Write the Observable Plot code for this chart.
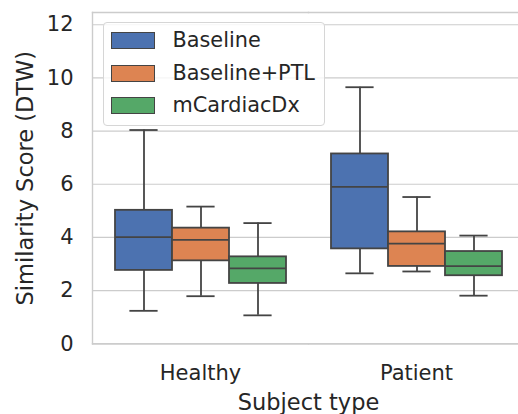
<!DOCTYPE html>
<html><head><meta charset="utf-8">
<script src="https://cdn.jsdelivr.net/npm/d3@7"></script>
<script src="https://cdn.jsdelivr.net/npm/@observablehq/plot@0.6"></script>
<style>
html,body{margin:0;padding:0;background:#fff;overflow:hidden;}
#wrap{position:relative;width:518px;height:414px;overflow:hidden;font-family:"DejaVu Sans";color:#262626;}
#legend{position:absolute;left:102.5px;top:22px;width:222px;height:104px;border:1px solid #d6d6d6;border-radius:4px;background:rgba(255,255,255,0.8);box-sizing:border-box;}
.item{position:absolute;left:7px;height:17px;}
.sw{position:absolute;left:0;top:0;width:44px;height:17px;box-sizing:border-box;border:1.7px solid #444;}
.lab{position:absolute;left:62px;top:-4px;font-size:20.8px;line-height:24px;white-space:nowrap;}
</style></head><body><div id="wrap"></div>
<script>
const subjects = ["Healthy", "Patient"];
const models = ["Baseline", "Baseline+PTL", "mCardiacDx"];
const colors = ["#4c72b0", "#dd8452", "#55a868"];
// per subject, per model
const whiskerLow  = [[1.24, 1.79, 1.07], [2.65, 2.72, 1.81]];
const q1          = [[2.76, 3.12, 2.27], [3.57, 2.91, 2.56]];
const median      = [[4.01, 3.91, 2.84], [5.90, 3.77, 2.92]];
const q3          = [[5.02, 4.35, 3.27], [7.14, 4.21, 3.47]];
const whiskerHigh = [[8.04, 5.16, 4.54], [9.65, 5.52, 4.07]];
const yTicks = [0, 2, 4, 6, 8, 10, 12];

const rows = [];
subjects.forEach((s, i) => models.forEach((m, j) => rows.push({
  subject: s, model: m, low: whiskerLow[i][j], q1: q1[i][j], med: median[i][j], q3: q3[i][j], high: whiskerHigh[i][j]
})));

const lc = "#444444", lw = 1.8, gc = "#cccccc";
const common = {fx: "subject", x: "model"};

const chart = Plot.plot({
  width: 518, height: 414,
  marginLeft: 91, marginRight: -6, marginTop: 12, marginBottom: 70.7,
  style: {fontFamily: "DejaVu Sans", fontSize: "21px", color: "#262626", background: "transparent"},
  fx: {domain: subjects, padding: 0, label: null},
  x: {domain: models, paddingInner: 0, paddingOuter: 0.375, axis: null},
  y: {domain: [0, 12.46], label: null, axis: null},
  color: {domain: models, range: colors},
  marks: [
    Plot.gridY(yTicks, {stroke: gc, strokeOpacity: 1, strokeWidth: 1.2}),
    Plot.frame({anchor: "top", stroke: gc, strokeOpacity: 1, strokeWidth: 1.4}),
    Plot.frame({anchor: "bottom", stroke: gc, strokeOpacity: 1, strokeWidth: 1.4}),
    Plot.frame({anchor: "left", facetAnchor: "left", stroke: gc, strokeOpacity: 1, strokeWidth: 1.4}),
    Plot.ruleX(rows, {...common, y1: "low", y2: "q1", stroke: lc, strokeWidth: lw}),
    Plot.ruleX(rows, {...common, y1: "q3", y2: "high", stroke: lc, strokeWidth: lw}),
    Plot.tickY(rows, {...common, y: "low", stroke: lc, strokeWidth: lw, insetLeft: 14.4, insetRight: 14.4}),
    Plot.tickY(rows, {...common, y: "high", stroke: lc, strokeWidth: lw, insetLeft: 14.4, insetRight: 14.4}),
    Plot.barY(rows, {...common, y1: "q1", y2: "q3", fill: "model", stroke: lc, strokeWidth: lw}),
    Plot.tickY(rows, {...common, y: "med", stroke: lc, strokeWidth: lw}),
    Plot.axisY(yTicks, {tickSize: 0, tickPadding: 19, label: null, fill: "#262626", fontSize: 21}),
    Plot.axisY({ticks: [], tickSize: 0, label: "Similarity Score (DTW)", labelArrow: "none", labelAnchor: "center", labelOffset: 75, fontSize: 22.5, fill: "#262626"}),
    Plot.axisFx({anchor: "bottom", tickSize: 0, tickPadding: 21, label: null, fontSize: 21, fill: "#262626"}),
    Plot.axisFx({anchor: "bottom", ticks: [], tickSize: 0, label: "Subject type", labelArrow: "none", labelAnchor: "center", labelOffset: 66, fontSize: 22.5, fill: "#262626", facetAnchor: null})
  ]
});
const wrap = document.getElementById("wrap");
wrap.appendChild(chart);

const legend = document.createElement("div");
legend.id = "legend";
models.forEach((m, j) => {
  const it = document.createElement("div");
  it.className = "item";
  it.style.top = (9 + j * 32.6) + "px";
  const sw = document.createElement("div");
  sw.className = "sw";
  sw.style.background = colors[j];
  const lab = document.createElement("div");
  lab.className = "lab";
  lab.textContent = m;
  it.appendChild(sw); it.appendChild(lab);
  legend.appendChild(it);
});
wrap.appendChild(legend);
</script></body></html>
